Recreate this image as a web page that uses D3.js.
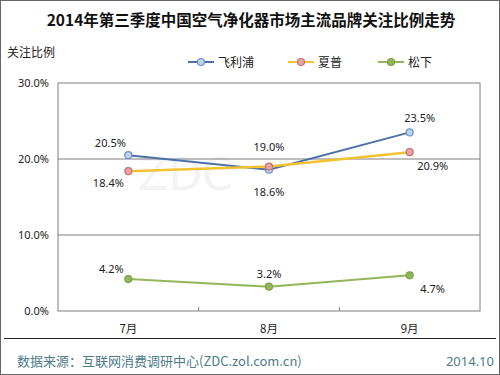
<!DOCTYPE html>
<html><head><meta charset="utf-8">
<script src="https://cdn.jsdelivr.net/npm/d3@7/dist/d3.min.js"></script>
<style>body{margin:0;background:#fff}svg{display:block}</style>
</head><body><svg id="c" width="500" height="375"></svg>
<script>
const categories = ["7月","8月","9月"];
const seriesNames = ["飞利浦","夏普","松下"];
const philips = [20.5, 18.6, 23.5];
const sharp = [18.4, 19.0, 20.9];
const panasonic = [4.2, 3.2, 4.7];
const yTicks = [0, 10, 20, 30];

const colors = [
  {line:"#4a71a8", fill:"#bcd3ee", stroke:"#6d8fc0"},
  {line:"#f2c230", fill:"#e8a4a4", stroke:"#c87070"},
  {line:"#93b65a", fill:"#93b65a", stroke:"#7fa048"}
];
const series = [philips, sharp, panasonic];
const labelPos = [
  [[-18,-12,"middle"],[0,22,"middle"],[10,-14,"middle"]],
  [[-20,12,"middle"],[0,-20,"middle"],[23,14,"middle"]],
  [[-17,-10,"middle"],[0,-13,"middle"],[23,14,"middle"]]
];

const svg = d3.select("#c");
const font = "'Noto Sans', 'DejaVu Sans', sans-serif";
svg.append("rect").attr("x",0.5).attr("y",0.5).attr("width",499).attr("height",374)
  .attr("fill","#fff").attr("stroke","#666");

svg.append("text").attr("x",251).attr("y",26).attr("text-anchor","middle")
  .attr("font-family","'Noto Sans CJK SC', sans-serif").attr("font-weight","bold")
  .attr("font-size",15.5).attr("fill","#111").text("2014年第三季度中国空气净化器市场主流品牌关注比例走势");
svg.append("text").attr("x",7).attr("y",57).attr("font-family","'Noto Sans CJK SC', sans-serif")
  .attr("font-size",12).attr("fill","#222").text("关注比例");

const x = d3.scaleBand().domain(categories).range([58,480]);
const y = d3.scaleLinear().domain([0,30]).range([311,83]);

// faint watermark (drawn as a shape-like text behind everything)
svg.append("text").attr("x",138).attr("y",190).attr("font-family","'DejaVu Sans', sans-serif")
  .attr("font-size",44).attr("fill","#000").attr("opacity",0.045).text("ZDC");

// grid
svg.append("g").selectAll("line").data(yTicks.filter(d=>d>0&&d<30)).join("line")
  .attr("x1",58).attr("x2",480).attr("y1",d=>y(d)).attr("y2",d=>y(d))
  .attr("stroke","#7f7f7f").attr("stroke-width",1);
svg.append("rect").attr("x",58).attr("y",y(30)).attr("width",422).attr("height",y(0)-y(30))
  .attr("fill","none").attr("stroke","#7f7f7f");

// y axis
const ya = svg.append("g").attr("transform","translate(58,0)")
  .call(d3.axisLeft(y).tickValues(yTicks).tickSize(0).tickPadding(9).tickFormat(d=>d.toFixed(1)+"%"));
ya.select(".domain").remove();
ya.selectAll("text").attr("font-family",font).attr("font-size",11).attr("fill","#222");

// x axis
const xa = svg.append("g").attr("transform",`translate(0,${y(0)})`)
  .call(d3.axisBottom(x).tickSize(0).tickPadding(14));
xa.select(".domain").remove();
xa.selectAll("text").attr("font-family","'Noto Sans CJK SC', sans-serif").attr("font-size",11.5).attr("fill","#222");
svg.append("g").selectAll("line").data(categories.slice(1)).join("line")
  .attr("x1",d=>x(d)).attr("x2",d=>x(d)).attr("y1",y(0)).attr("y2",y(0)-4).attr("stroke","#7f7f7f");

// lines
const line = d3.line().x((d,i)=>x(categories[i])+x.bandwidth()/2).y(d=>y(d));
series.forEach((s,k)=>{
  svg.append("path").datum(s).attr("d",line).attr("fill","none")
    .attr("stroke",colors[k].line).attr("stroke-width",k===1?2.5:2);
});
series.forEach((s,k)=>{
  svg.append("g").selectAll("circle").data(s).join("circle")
    .attr("cx",(d,i)=>x(categories[i])+x.bandwidth()/2).attr("cy",d=>y(d)).attr("r",3.5)
    .attr("fill",colors[k].fill).attr("stroke",colors[k].stroke).attr("stroke-width",1.2);
});
series.forEach((s,k)=>{
  svg.append("g").selectAll("text").data(s).join("text")
    .attr("x",(d,i)=>x(categories[i])+x.bandwidth()/2+labelPos[k][i][0])
    .attr("y",(d,i)=>y(d)+labelPos[k][i][1]+4)
    .attr("text-anchor",(d,i)=>labelPos[k][i][2])
    .attr("font-family",font).attr("font-size",11).attr("fill","#222")
    .text(d=>d.toFixed(1)+"%");
});

// legend
const lgX = [188,288,378];
seriesNames.forEach((n,k)=>{
  const g = svg.append("g").attr("transform",`translate(${lgX[k]},62)`);
  g.append("line").attr("x1",0).attr("x2",26).attr("stroke",colors[k].line).attr("stroke-width",2);
  g.append("circle").attr("cx",13).attr("r",3.5).attr("fill",colors[k].fill).attr("stroke",colors[k].stroke).attr("stroke-width",1.2);
  g.append("text").attr("x",30).attr("y",4.5).attr("font-family","'Noto Sans CJK SC', sans-serif")
    .attr("font-size",12).attr("fill","#222").text(n);
});

// footer
svg.append("line").attr("x1",4).attr("x2",496).attr("y1",338.5).attr("y2",338.5).attr("stroke","#222").attr("stroke-width",1.2);
svg.append("text").attr("x",17).attr("y",366).attr("font-family","'Noto Sans CJK SC', sans-serif")
  .attr("font-size",13).attr("fill","#4d7b8a").text("数据来源：互联网消费调研中心(ZDC.zol.com.cn)");
svg.append("text").attr("x",494).attr("y",366).attr("text-anchor","end").attr("font-family",font)
  .attr("font-size",13).attr("fill","#4d7b8a").text("2014.10");
</script></body></html>
